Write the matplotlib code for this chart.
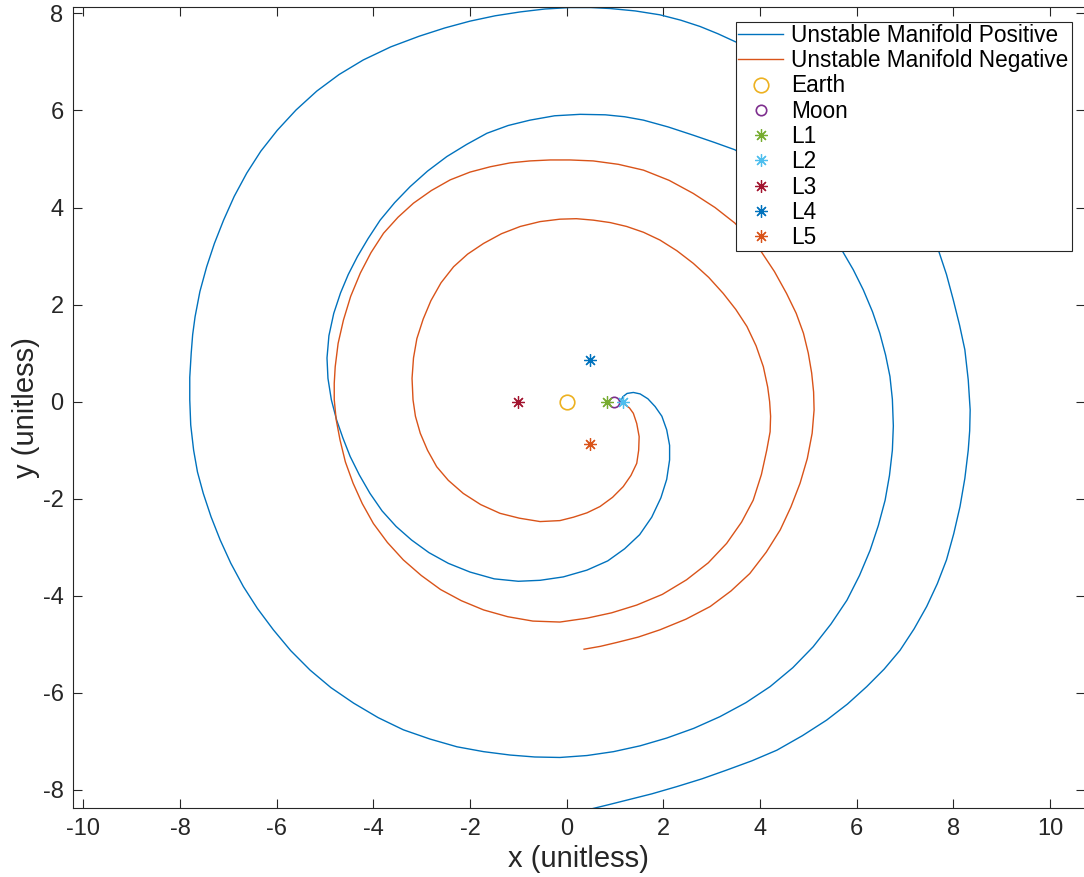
import numpy as np
import matplotlib
matplotlib.use("Agg")
import matplotlib.pyplot as plt

plt.rcParams['font.family'] = ['Liberation Sans', 'DejaVu Sans']
plt.rcParams['axes.unicode_minus'] = False

# unstable manifold, positive branch (x, y)
pos_x = [1.12, 1.16, 1.25, 1.38, 1.52, 1.68, 1.83, 1.97, 2.07, 2.13, 2.13, 2.07, 1.95, 1.76, 1.51, 1.20,
         0.85, 0.42, -0.07, -0.55, -1.00, -1.50, -2.00, -2.45, -2.85, -3.21, -3.53, -3.82, -4.07, -4.29,
         -4.48, -4.63, -4.76, -4.87, -4.94, -4.96, -4.92, -4.82, -4.68, -4.52, -4.33, -4.11, -3.86, -3.56,
         -3.24, -2.88, -2.48, -2.07, -1.65, -1.21, -0.76, -0.25, 0.28, 0.80, 1.20, 1.59, 2.10, 2.62, 3.06,
         3.48, 4.10, 4.60, 5.20, 5.69, 5.93, 6.14, 6.33, 6.48, 6.60, 6.69, 6.74, 6.76, 6.74, 6.68, 6.59,
         6.45, 6.28, 6.06, 5.80, 5.47, 5.10, 4.68, 4.21, 3.71, 3.17, 2.63, 2.07, 1.52, 0.97, 0.42, -0.14,
         -0.66, -1.17, -1.72, -2.27, -2.83, -3.38, -3.90, -4.41, -4.88, -5.31, -5.71, -6.07, -6.40, -6.69,
         -6.95, -7.17, -7.36, -7.52, -7.64, -7.72, -7.78, -7.80, -7.80, -7.77, -7.74, -7.69, -7.59, -7.45,
         -7.29, -7.10, -6.88, -6.62, -6.33, -5.99, -5.60, -5.17, -4.71, -4.21, -3.64, -3.05, -2.52, -2.00,
         -1.48, -0.96, -0.45, 0.07, 0.50, 0.90, 1.42, 1.93, 2.36, 2.76, 3.13, 3.48, 4.20, 4.81, 5.93, 6.86,
         7.30, 7.69, 7.86, 8.00, 8.13, 8.24, 8.31, 8.35, 8.34, 8.31, 8.24, 8.14, 8.01, 7.86, 7.67, 7.45,
         7.19, 6.90, 6.57, 6.21, 5.81, 5.38, 4.88, 4.35, 3.83, 3.31, 2.80, 2.28, 1.76, 1.24, 0.88, 0.55, 0.40]
pos_y = [0.00, 0.10, 0.17, 0.19, 0.16, 0.06, -0.10, -0.30, -0.58, -0.90, -1.20, -1.60, -1.98, -2.38,
         -2.74, -3.03, -3.28, -3.47, -3.61, -3.68, -3.70, -3.65, -3.51, -3.33, -3.11, -2.85, -2.57, -2.25,
         -1.89, -1.51, -1.13, -0.75, -0.38, 0.04, 0.48, 0.90, 1.36, 1.82, 2.24, 2.62, 2.99, 3.36, 3.74,
         4.10, 4.43, 4.75, 5.05, 5.30, 5.53, 5.69, 5.80, 5.89, 5.92, 5.91, 5.87, 5.80, 5.66, 5.49, 5.34,
         5.19, 4.80, 4.31, 3.70, 3.13, 2.72, 2.30, 1.85, 1.41, 0.96, 0.52, 0.05, -0.50, -1.00, -1.52, -2.03,
         -2.55, -3.06, -3.58, -4.09, -4.58, -5.05, -5.48, -5.87, -6.20, -6.49, -6.73, -6.93, -7.09, -7.21,
         -7.29, -7.33, -7.32, -7.28, -7.21, -7.11, -6.95, -6.76, -6.51, -6.21, -5.89, -5.53, -5.13, -4.70,
         -4.26, -3.81, -3.33, -2.85, -2.37, -1.89, -1.45, -1.00, -0.48, 0.04, 0.50, 1.00, 1.38, 1.75, 2.27,
         2.78, 3.26, 3.74, 4.23, 4.71, 5.16, 5.59, 6.01, 6.40, 6.74, 7.04, 7.31, 7.53, 7.70, 7.84, 7.95,
         8.03, 8.09, 8.12, 8.12, 8.10, 8.05, 7.97, 7.86, 7.73, 7.58, 7.42, 7.10, 6.67, 5.73, 4.60, 3.90,
         3.13, 2.62, 2.10, 1.58, 1.07, 0.45, -0.17, -0.60, -1.00, -1.58, -2.16, -2.72, -3.26, -3.75, -4.22,
         -4.68, -5.12, -5.51, -5.87, -6.23, -6.56, -6.88, -7.18, -7.40, -7.59, -7.77, -7.93, -8.08, -8.21,
         -8.30, -8.38, -8.42]

# unstable manifold, negative branch (x, y)
neg_x = [1.19, 1.30, 1.38, 1.45, 1.50, 1.49, 1.45, 1.33, 1.17, 0.95, 0.69, 0.42, 0.14, -0.14, -0.55,
         -0.98, -1.38, -1.78, -2.14, -2.45, -2.69, -2.88, -3.03, -3.13, -3.18, -3.20, -3.17, -3.10, -2.97,
         -2.81, -2.60, -2.34, -2.05, -1.72, -1.35, -0.96, -0.55, -0.14, 0.20, 0.55, 0.90, 1.24, 1.59, 1.93,
         2.28, 2.62, 2.94, 3.24, 3.50, 3.73, 3.92, 4.07, 4.16, 4.20, 4.22, 4.21, 4.14, 4.03, 3.86, 3.62,
         3.31, 2.93, 2.48, 1.98, 1.45, 0.93, 0.42, -0.14, -0.70, -1.22, -1.72, -2.18, -2.61, -3.01, -3.38,
         -3.71, -4.00, -4.23, -4.42, -4.58, -4.69, -4.77, -4.81, -4.81, -4.79, -4.73, -4.62, -4.47, -4.27,
         -4.05, -3.79, -3.49, -3.17, -2.80, -2.41, -2.00, -1.58, -1.17, -0.76, -0.34, 0.07, 0.55, 1.07,
         1.59, 2.12, 2.62, 3.07, 3.48, 4.00, 4.30, 4.55, 4.75, 4.90, 5.00, 5.07, 5.11, 5.12, 5.08, 4.98,
         4.83, 4.64, 4.42, 4.13, 3.79, 3.40, 2.97, 2.47, 1.93, 1.48, 1.04, 0.70, 0.36]
neg_y = [-0.05, -0.13, -0.24, -0.45, -0.72, -1.00, -1.27, -1.52, -1.75, -1.97, -2.16, -2.29, -2.38,
         -2.45, -2.47, -2.40, -2.30, -2.12, -1.89, -1.62, -1.34, -1.00, -0.65, -0.30, 0.04, 0.48, 0.90,
         1.30, 1.70, 2.08, 2.45, 2.78, 3.04, 3.26, 3.46, 3.61, 3.71, 3.76, 3.77, 3.74, 3.69, 3.61, 3.49,
         3.33, 3.11, 2.85, 2.56, 2.23, 1.90, 1.55, 1.15, 0.72, 0.30, 0.00, -0.30, -0.62, -1.00, -1.50,
         -2.03, -2.48, -2.92, -3.32, -3.67, -3.97, -4.19, -4.35, -4.46, -4.54, -4.52, -4.43, -4.29, -4.10,
         -3.87, -3.58, -3.26, -2.90, -2.51, -2.10, -1.68, -1.24, -0.79, -0.37, 0.04, 0.38, 0.72, 1.20,
         1.68, 2.17, 2.65, 3.07, 3.47, 3.80, 4.09, 4.35, 4.57, 4.73, 4.84, 4.92, 4.96, 4.98, 4.98, 4.96,
         4.89, 4.77, 4.56, 4.29, 4.00, 3.68, 3.13, 2.68, 2.23, 1.82, 1.41, 1.00, 0.59, 0.20, -0.17, -0.65,
         -1.17, -1.68, -2.17, -2.64, -3.10, -3.54, -3.90, -4.22, -4.48, -4.70, -4.85, -4.96, -5.04, -5.10]

# primaries and libration points
body_names = ['Earth', 'Moon']
body_x = [0.0, 0.988]
body_y = [0.0, 0.0]
lpt_names = ['L1', 'L2', 'L3', 'L4', 'L5']
lpt_x = [0.837, 1.156, -1.005, 0.488, 0.488]
lpt_y = [0.0, 0.0, 0.0, 0.866, -0.866]

body_colors = ['#EDB120', '#7E2F8E']
body_sizes = [10.5, 7.5]
lpt_colors = ['#77AC30', '#4DBEEE', '#A2142F', '#0072BD', '#D95319']

W, H = 1084, 877
fig = plt.figure(figsize=(W / 100, H / 100), dpi=100)
ax = fig.add_axes([73.3 / W, 1 - 808 / H, (1084.5 - 73.3) / W, (808 - 7.3) / H])

ax.plot(pos_x, pos_y, color='#0072BD', lw=1.0, label='Unstable Manifold Positive')
ax.plot(neg_x, neg_y, color='#D95319', lw=1.0, label='Unstable Manifold Negative')
for name, x, y, c, s in zip(body_names, body_x, body_y, body_colors, body_sizes):
    ax.plot([x], [y], ls='none', marker='o', mfc='none', mec=c, ms=s, mew=1.2, label=name)
for name, x, y, c in zip(lpt_names, lpt_x, lpt_y, lpt_colors):
    ax.plot([x], [y], ls='none', marker=(8, 2, 0), color=c, ms=9, mew=0.9, label=name)

ax.set_xlim(-10.21, 10.716)
ax.set_ylim(-8.371, 8.125)
ax.set_xticks(np.arange(-10, 11, 2))
ax.set_yticks(np.arange(-8, 9, 2))
ax.tick_params(direction='in', length=6.5, width=0.8, colors='#262626', labelsize=17,
               top=True, right=True, pad=7)
for sp in ax.spines.values():
    sp.set_color('#262626')
    sp.set_linewidth(0.8)

ax.set_xlabel('x (unitless)', fontsize=21, color='#262626', labelpad=4)
ax.set_ylabel('y (unitless)', fontsize=21, color='#262626', labelpad=2)

# legend box stretched to a fixed width in figure coords
leg = ax.legend(loc='upper left', bbox_to_anchor=(735.7 / W, 1 - 21.7 / H, 336.3 / W, 0),
                bbox_transform=fig.transFigure, mode='expand', borderaxespad=0, fontsize=16.3,
                frameon=True, fancybox=False, framealpha=1, edgecolor='#262626',
                handlelength=2.0, handletextpad=0.35, labelspacing=0.10, borderpad=0.1)
leg.get_frame().set_linewidth(0.8)
leg.set_zorder(10)

fig.savefig('out.png', dpi=100)
